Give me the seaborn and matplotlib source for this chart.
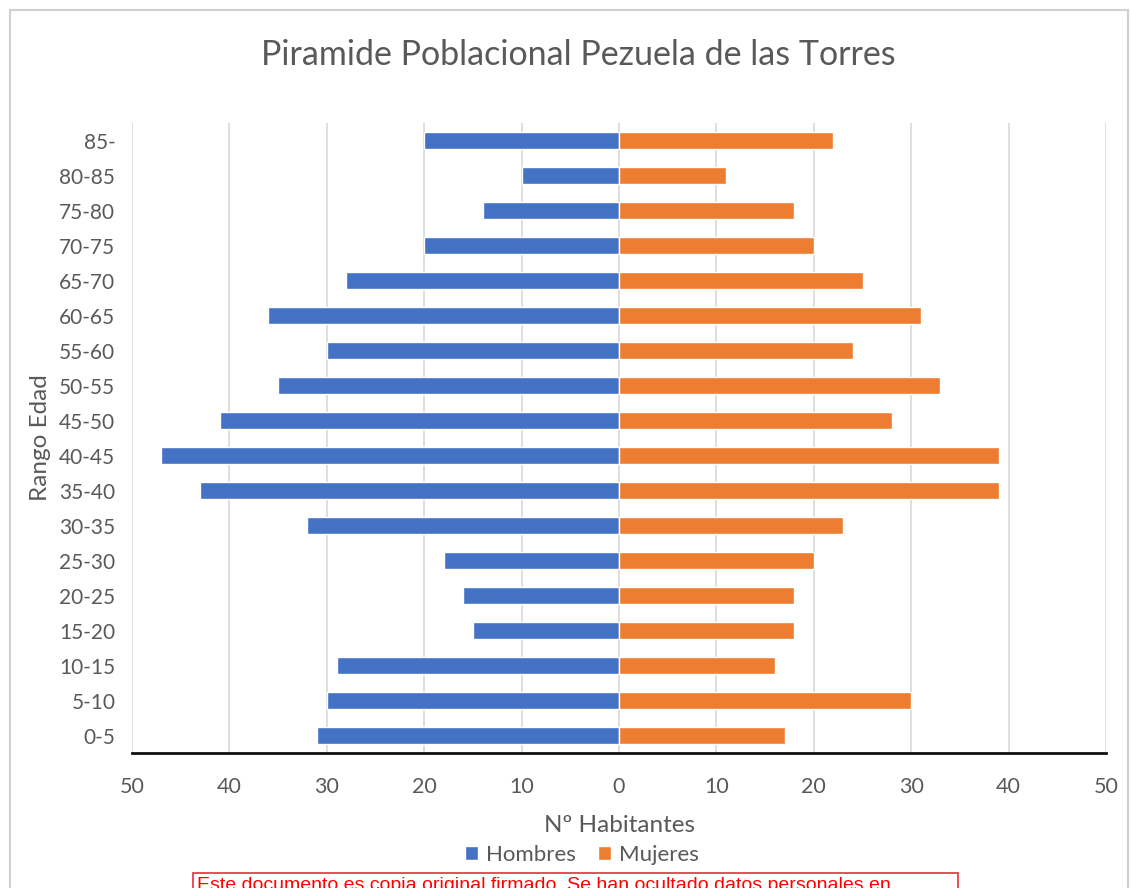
import matplotlib
matplotlib.use("Agg")
import matplotlib.pyplot as plt
from matplotlib.patches import Rectangle, Patch
import pandas as pd
import seaborn as sns

# Age groups, oldest at the top
age_groups = ["85-", "80-85", "75-80", "70-75", "65-70", "60-65", "55-60", "50-55",
              "45-50", "40-45", "35-40", "30-35", "25-30", "20-25", "15-20",
              "10-15", "5-10", "0-5"]
hombres = [20, 10, 14, 20, 28, 36, 30, 35, 41, 47, 43, 32, 18, 16, 15, 29, 30, 31]
mujeres = [22, 11, 18, 20, 25, 31, 24, 33, 28, 39, 39, 23, 20, 18, 18, 16, 30, 17]
x_ticks = [-50, -40, -30, -20, -10, 0, 10, 20, 30, 40, 50]

BLUE = "#4472C4"
ORANGE = "#ED7D31"
GREY_TEXT = "#595959"

sns.set_theme(style="white")
plt.rcParams["font.family"] = ["Lato", "DejaVu Sans"]

df = pd.DataFrame({
    "Rango Edad": age_groups * 2,
    "Valor": [-v for v in hombres] + mujeres,
    "Sexo": ["Hombres"] * len(age_groups) + ["Mujeres"] * len(age_groups),
})

fig = plt.figure(figsize=(11.31, 8.88), dpi=100)
ax = fig.add_axes([132 / 1131, 1 - 753 / 888, (1106 - 132) / 1131, (753 - 123) / 888])

sns.barplot(data=df, x="Valor", y="Rango Edad", hue="Sexo", order=age_groups,
            palette={"Hombres": BLUE, "Mujeres": ORANGE}, dodge=False,
            width=0.5, orient="h", ax=ax, legend=False, saturation=1)

ax.set_xlim(-50, 50)
ax.set_ylim(len(age_groups) - 0.5, -0.5)
ax.set_xticks(x_ticks)
ax.set_xticklabels([str(abs(t)) for t in x_ticks], fontsize=15.5, color=GREY_TEXT)
ax.tick_params(axis="y", labelsize=15, labelcolor=GREY_TEXT, length=0, pad=12)
ax.tick_params(axis="x", length=0, pad=17)
ax.xaxis.grid(True, color="#D9D9D9", linewidth=1.2)
ax.set_axisbelow(True)
for side in ["top", "right", "left"]:
    ax.spines[side].set_visible(False)
ax.spines["bottom"].set_color("#111111")
ax.spines["bottom"].set_linewidth(2)

ax.set_xlabel("Nº Habitantes", fontsize=17.5, color=GREY_TEXT, labelpad=13)
ax.set_ylabel("Rango Edad", fontsize=17.5, color=GREY_TEXT, labelpad=6)

fig.text(578 / 1131, 1 - 55 / 888, "Piramide Poblacional Pezuela de las Torres",
         ha="center", va="center", fontsize=24.5, color=GREY_TEXT)

handles = [Patch(facecolor=BLUE, label="Hombres"), Patch(facecolor=ORANGE, label="Mujeres")]
fig.legend(handles=handles, loc="center", bbox_to_anchor=(582 / 1131, 1 - 855 / 888),
           ncol=2, frameon=False, fontsize=16, handlelength=0.6, handleheight=0.6,
           handletextpad=0.35, columnspacing=1.0, labelcolor=GREY_TEXT)

# Chart frame
fig.patches.append(Rectangle((10 / 1131, -0.05), (1128 - 10) / 1131, 1 - 10 / 888 + 0.05,
                             transform=fig.transFigure, fill=False,
                             edgecolor="#D0D0D0", linewidth=1.5))

# Footer notice box
fig.patches.append(Rectangle((193 / 1131, -0.05), (958 - 193) / 1131, 0.05 + 15 / 888,
                             transform=fig.transFigure, fill=False,
                             edgecolor="#E0303A", linewidth=1.2))
fig.text(197 / 1131, 1 - 885 / 888,
         "Este documento es copia original firmado. Se han ocultado datos personales en",
         ha="left", va="center", fontsize=14, color="#FF0000", family="Liberation Sans")

fig.savefig("out.png", dpi=100)
